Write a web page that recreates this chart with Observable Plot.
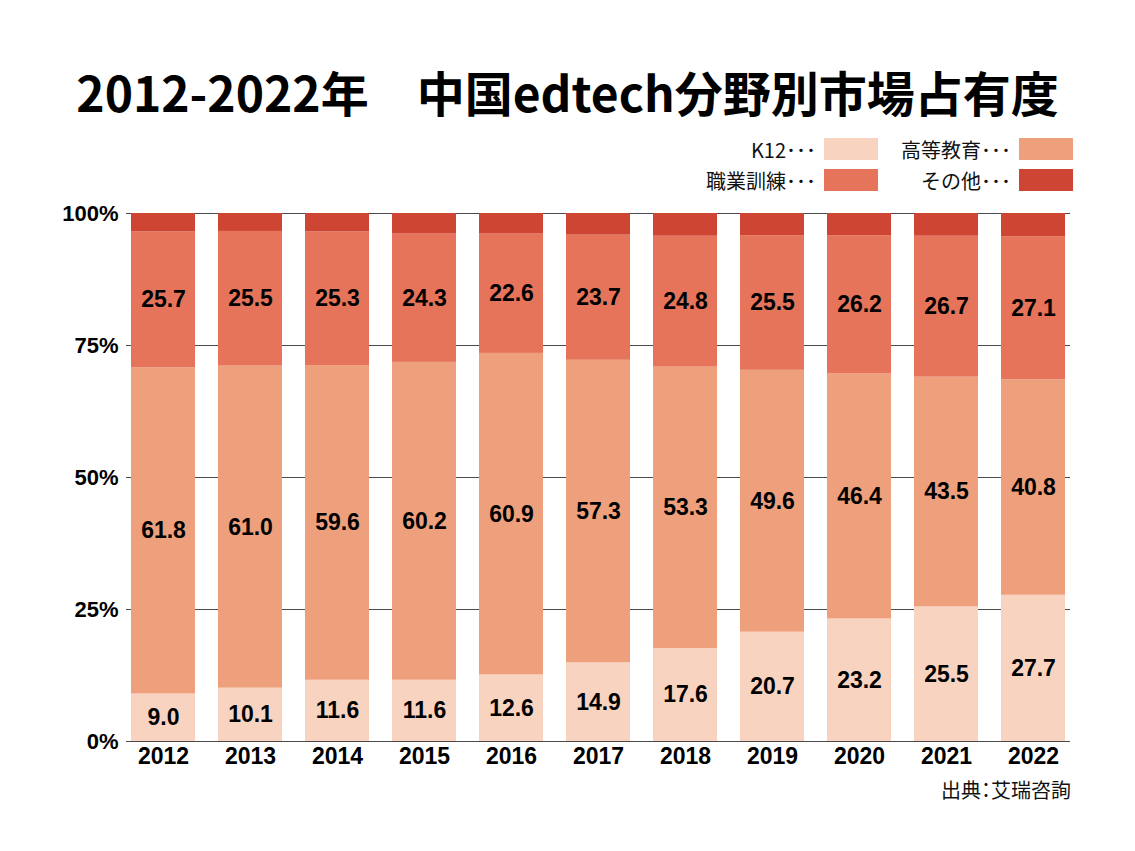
<!DOCTYPE html>
<html>
<head>
<meta charset="utf-8">
<script src="https://cdn.jsdelivr.net/npm/d3@7"></script>
<script src="https://cdn.jsdelivr.net/npm/@observablehq/plot@0.6"></script>
<style>
  body { margin: 0; background: #fff; }
  #wrap { position: relative; width: 1135px; height: 851px; overflow: hidden; background:#fff; }
  #title { position: absolute; left: 0; top: 58px; width: 1135px; text-align: center;
    font-family: "Noto Sans CJK JP", sans-serif; font-weight: 700; font-size: 48px; line-height: 66px; color: #000; white-space: pre; }
  .leg { position: absolute; font-family: "Noto Sans CJK JP", sans-serif; font-size: 20px; color: #111; display: flex; align-items: center; justify-content: flex-end; height: 30px; }
  .leg span.sw { display: inline-block; width: 54px; height: 22px; margin-left: 8px; }
  #source { position: absolute; right: 64px; top: 775px; font-family: "Noto Sans CJK JP", sans-serif; font-size: 20px; color: #111; font-feature-settings: "halt"; }
  #chart { position: absolute; left: 0; top: 0; }
</style>
</head>
<body>
<div id="wrap">
  <div id="chart"></div>
  <div id="title"></div>
  <div id="legend"></div>
  <div id="source"></div>
</div>
<script>
const titleText = "2012-2022年　中国edtech分野別市場占有度";
const sourceText = "出典：艾瑞咨詢";
const years = ["2012","2013","2014","2015","2016","2017","2018","2019","2020","2021","2022"];
const categories = ["K12", "高等教育", "職業訓練", "その他"];
const colors = ["#f8d4c0", "#eea07d", "#e5745b", "#ce4533"];
const k12 = [9.0, 10.1, 11.6, 11.6, 12.6, 14.9, 17.6, 20.7, 23.2, 25.5, 27.7];
const higher = [61.8, 61.0, 59.6, 60.2, 60.9, 57.3, 53.3, 49.6, 46.4, 43.5, 40.8];
const vocational = [25.7, 25.5, 25.3, 24.3, 22.6, 23.7, 24.8, 25.5, 26.2, 26.7, 27.1];
const other = [3.5, 3.4, 3.5, 3.9, 3.9, 4.1, 4.3, 4.2, 4.2, 4.3, 4.4];
const yTicks = [0, 25, 50, 75, 100];

const series = [k12, higher, vocational, other];
const rows = [];
years.forEach((yr, i) => {
  let base = 0;
  series.forEach((s, j) => {
    rows.push({year: yr, cat: categories[j], value: s[i], mid: base + s[i] / 2, label: j < 3});
    base += s[i];
  });
});

document.getElementById("title").textContent = titleText;
document.getElementById("source").textContent = sourceText;

// legend
const legendPos = [
  {right: 1135 - 878, top: 134},
  {right: 1135 - 1073, top: 134},
  {right: 1135 - 878, top: 165},
  {right: 1135 - 1073, top: 165}
];
const legEl = document.getElementById("legend");
categories.forEach((c, i) => {
  const d = document.createElement("div");
  d.className = "leg";
  d.style.right = legendPos[i].right + "px";
  d.style.top = legendPos[i].top + "px";
  const t = document.createElement("span");
  t.textContent = c + "･･･";
  const sw = document.createElement("span");
  sw.className = "sw";
  sw.style.background = colors[i];
  d.appendChild(t); d.appendChild(sw);
  legEl.appendChild(d);
});

const chart = Plot.plot({
  width: 1135,
  height: 851,
  marginTop: 213,
  marginBottom: 110,
  marginLeft: 126,
  marginRight: 65,
  style: {fontFamily: "'Liberation Sans', Arial, sans-serif", background: "transparent"},
  x: {domain: years, paddingInner: 0.264, paddingOuter: 0.057, label: null, tickSize: 0, tickPadding: 6},
  y: {domain: [0, 100], ticks: yTicks, tickFormat: d => d + "%", label: null, tickSize: 0, tickPadding: 8},
  color: {domain: categories, range: colors},
  marks: [
    Plot.ruleY(yTicks, {y: d => d, stroke: "#4a4a4a", strokeWidth: 1.2}),
    Plot.barY(rows, {x: "year", y: "value", fill: "cat", order: categories}),
    Plot.text(rows.filter(d => d.label), {x: "year", y: "mid", text: d => d.value.toFixed(1),
      fontSize: 23, fontWeight: "bold", fill: "#000"}),
    Plot.axisX({tickSize: 0, tickPadding: 6, fontSize: 23, fontWeight: "bold", label: null}),
    Plot.axisY({ticks: yTicks, tickFormat: d => d + "%", tickSize: 0, tickPadding: 8, fontSize: 22, fontWeight: "bold", label: null})
  ]
});
chart.querySelectorAll("g[aria-label='x-axis tick label'] text, g[aria-label='y-axis tick label'] text").forEach(t => t.setAttribute("fill", "#000"));
document.getElementById("chart").appendChild(chart);
</script>
</body>
</html>
